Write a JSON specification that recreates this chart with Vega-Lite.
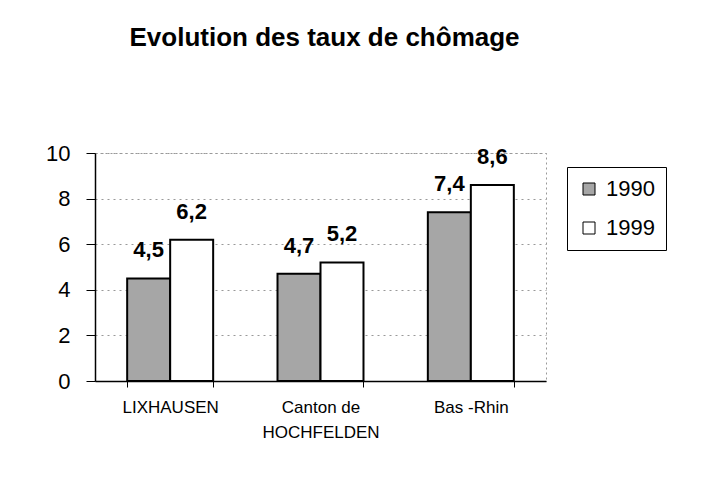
{
  "$schema": "https://vega.github.io/schema/vega-lite/v6.json",
  "width": 451,
  "height": 228,
  "autosize": {"type": "none"},
  "padding": {"left": 95, "top": 153, "right": 168, "bottom": 123},
  "background": "white",
  "config": {
    "font": "Liberation Sans",
    "locale": {"number": {"decimal": ",", "thousands": " ", "grouping": [3], "currency": ["", " €"]}},
    "view": {"stroke": "#999999", "strokeDash": [2, 3], "strokeWidth": 1}
  },
  "title": {
    "text": "Evolution des taux de chômage",
    "fontSize": 26,
    "fontWeight": "bold",
    "color": "black",
    "anchor": "middle",
    "dx": 4,
    "offset": 91
  },
  "data": {
    "values": [
      {"zone": "LIXHAUSEN", "annee": "1990", "taux": 4.5},
      {"zone": "LIXHAUSEN", "annee": "1999", "taux": 6.2},
      {"zone": "Canton de|HOCHFELDEN", "annee": "1990", "taux": 4.7},
      {"zone": "Canton de|HOCHFELDEN", "annee": "1999", "taux": 5.2},
      {"zone": "Bas -Rhin", "annee": "1990", "taux": 7.4},
      {"zone": "Bas -Rhin", "annee": "1999", "taux": 8.6}
    ]
  },
  "encoding": {
    "x": {
      "field": "zone",
      "type": "nominal",
      "sort": null,
      "scale": {"paddingInner": 0.428, "paddingOuter": 0.214},
      "axis": {
        "title": null,
        "labelAngle": 0,
        "labelExpr": "split(datum.label, '|')",
        "labelFontSize": 17,
        "labelColor": "black",
        "labelPadding": 12,
        "labelLineHeight": 25,
        "domainColor": "black",
        "domainWidth": 1.5,
        "tickColor": "black",
        "tickBand": "extent",
        "tickSize": 6,
        "grid": false
      }
    },
    "xOffset": {"field": "annee", "type": "nominal"},
    "y": {
      "field": "taux",
      "type": "quantitative",
      "scale": {"domain": [0, 10]},
      "axis": {
        "title": null,
        "values": [0, 2, 4, 6, 8, 10],
        "labelFontSize": 22,
        "labelColor": "black",
        "labelPadding": 16,
        "domainColor": "black",
        "domainWidth": 1.5,
        "tickColor": "black",
        "tickSize": 9,
        "grid": true,
        "gridColor": "#999999",
        "gridDash": [2, 4]
      }
    }
  },
  "layer": [
    {
      "mark": {"type": "bar", "stroke": "black", "strokeWidth": 2},
      "encoding": {
        "fill": {
          "field": "annee",
          "type": "nominal",
          "scale": {"domain": ["1990", "1999"], "range": ["#a6a6a6", "white"]},
          "legend": {
            "title": null,
            "orient": "none",
            "legendX": 472,
            "legendY": 14,
            "symbolType": "square",
            "symbolSize": 144,
            "symbolStrokeColor": "black",
            "symbolStrokeWidth": 1,
            "labelFontSize": 22,
            "labelColor": "black",
            "labelOffset": 6,
            "rowPadding": 17,
            "strokeColor": "black",
            "padding": 11,
            "fillColor": "white"
          }
        }
      }
    },
    {
      "mark": {"type": "text", "baseline": "bottom", "dy": -16, "fontSize": 22, "fontWeight": "bold", "color": "black"},
      "encoding": {
        "text": {"field": "taux", "type": "quantitative", "format": ".1f"}
      }
    }
  ]
}
